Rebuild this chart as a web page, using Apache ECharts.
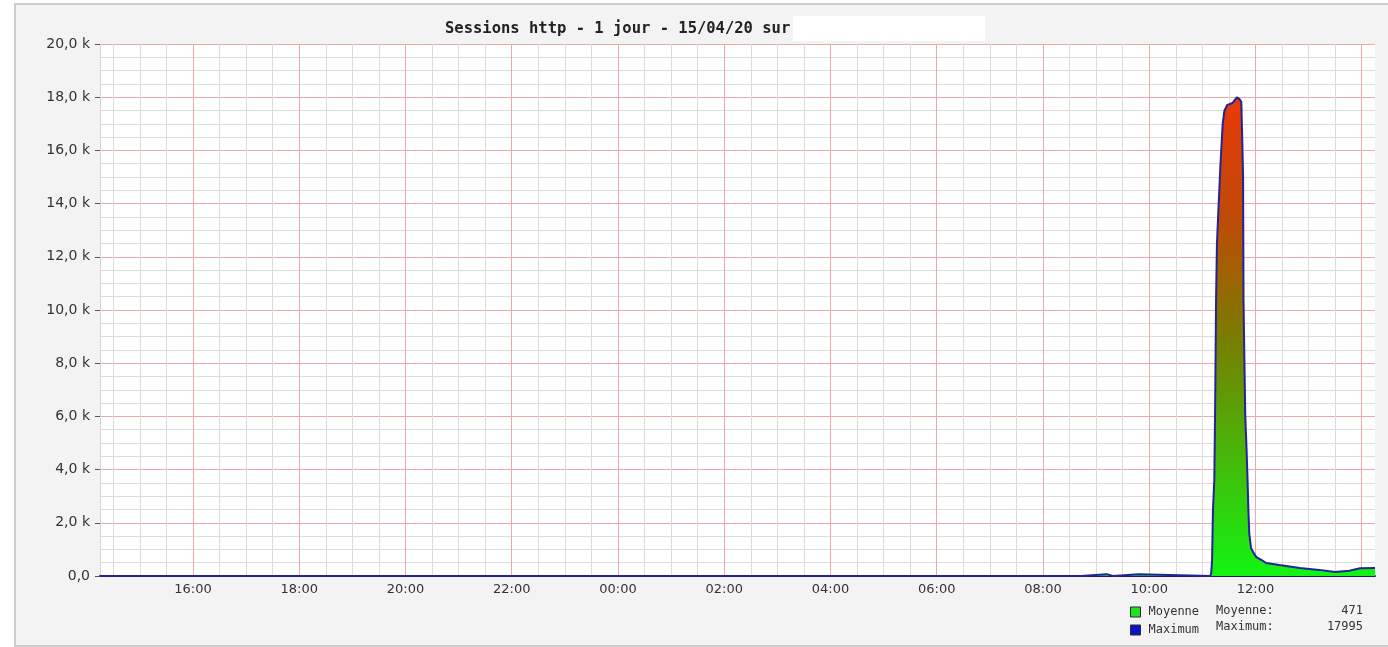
<!DOCTYPE html>
<html>
<head>
<meta charset="utf-8">
<script src="https://cdn.jsdelivr.net/npm/echarts@6/dist/echarts.min.js"></script>
<style>
  html, body { margin: 0; padding: 0; background: #fff; }
  .frame {
    position: absolute; left: 14px; top: 3px; width: 1390px; height: 640px;
    background: #f3f3f3; border: 2px solid #cdcdcd;
  }
  #chart { position: absolute; left: 0; top: 0; width: 1388px; height: 647px; }
</style>
</head>
<body>
<div class="frame"></div>
<div id="chart"></div>
<script>
// minutes from 00:00 on 14/04 (values above 1440 are on 15/04)
const times = [855, 1963, 1964, 1992, 1993, 1999, 2000, 2028, 2029, 2109, 2110, 2111, 2112, 2113.5, 2114.5,
  2115.5, 2116.5, 2118, 2120.5, 2123, 2125, 2128, 2134, 2139, 2142, 2144, 2145, 2146, 2146.5, 2147.5,
  2148.5, 2150, 2151, 2152, 2153, 2155, 2158, 2161, 2167, 2172, 2187, 2210, 2232, 2250, 2266, 2278, 2295]
const sessions = [0, 0, 70, 70, 0, 0, 70, 70, 0, 0, 110, 600, 2500, 3600, 6500,
  10400, 12500, 13650, 15500, 17000, 17500, 17700, 17780, 17995, 17930, 17820, 16500, 15000, 10400, 8100,
  6000, 4700, 3700, 2500, 1600, 1050, 860, 710, 600, 490, 410, 300, 230, 150, 200, 290, 300]
const legendNames = ['Moyenne', 'Maximum']
const statsLabels = ['Moyenne:', 'Maximum:']
const statsValues = ['471', '17995']

const MAJOR = '#eaaaaa'
const MINOR = '#dfdbdb'
const NONE = 'rgba(0,0,0,0)'

const chartDom = document.getElementById('chart')
const myChart = echarts.init(chartDom)

const points = times.map((t, i) => [t, sessions[i]])

// one label every two hours, none at the right edge
function hourLabel(v) {
  if (v % 120 !== 0 || v > 2250) return ''
  const h = Math.floor((v % 1440) / 60)
  return (h < 10 ? '0' + h : '' + h) + ':00'
}

function kLabel(v) {
  if (v === 0) return '0,0'
  return (v / 1000).toFixed(1).replace('.', ',') + ' k'
}

var option = {
  animation: false,
  title: {
    text: 'Sessions http - 1 jour - 15/04/20 sur',
    left: 445,
    top: 21,
    padding: 0,
    textStyle: { fontFamily: 'DejaVu Sans Mono', fontWeight: 'bold', fontSize: 15.5, color: '#222' }
  },
  legend: {
    data: [
      { name: legendNames[0], itemStyle: { color: '#22e022', borderColor: '#2a2a2a', borderWidth: 1 } },
      { name: legendNames[1], itemStyle: { color: '#1010cc', borderColor: '#2a2a2a', borderWidth: 1 } }
    ],
    orient: 'vertical',
    left: 1130,
    top: 606,
    padding: 0,
    icon: 'rect',
    itemWidth: 10,
    itemHeight: 10,
    itemGap: 6,
    selectedMode: false,
    textStyle: { fontFamily: 'DejaVu Sans Mono', fontSize: 12, color: '#333', padding: [0, 0, 0, 3] }
  },
  graphic: [
    { type: 'rect', shape: { x: 793, y: 16, width: 192, height: 25 }, style: { fill: '#fff' } },
    { type: 'text', x: 1216, y: 611, style: { text: statsLabels[0], font: '12px "DejaVu Sans Mono"', fill: '#333', verticalAlign: 'middle' } },
    { type: 'text', x: 1216, y: 627, style: { text: statsLabels[1], font: '12px "DejaVu Sans Mono"', fill: '#333', verticalAlign: 'middle' } },
    { type: 'text', x: 1363, y: 611, style: { text: statsValues[0], font: '12px "DejaVu Sans Mono"', fill: '#333', align: 'right', verticalAlign: 'middle' } },
    { type: 'text', x: 1363, y: 627, style: { text: statsValues[1], font: '12px "DejaVu Sans Mono"', fill: '#333', align: 'right', verticalAlign: 'middle' } }
  ],
  grid: {
    left: 100,
    right: 13,
    top: 44,
    bottom: 71,
    show: true,
    backgroundColor: '#fff',
    borderWidth: 0
  },
  xAxis: [
    {
      type: 'value',
      min: 855,
      max: 2295,
      interval: 15,
      axisLine: { show: true, lineStyle: { color: '#1c1c6e', width: 2 } },
      axisTick: { show: false },
      axisLabel: {
        formatter: hourLabel,
        margin: 7,
        color: '#333',
        fontFamily: 'DejaVu Sans',
        fontSize: 13
      },
      splitLine: {
        show: true,
        lineStyle: { width: 1, color: [NONE, MINOR, NONE, MINOR, NONE, MINOR, NONE, MAJOR] }
      }
    }
  ],
  yAxis: [
    {
      type: 'value',
      min: 0,
      max: 20000,
      interval: 500,
      axisLine: { show: true, lineStyle: { color: '#d4d4d4' } },
      axisTick: { show: false },
      axisLabel: { show: false },
      splitLine: {
        show: true,
        lineStyle: { width: 1, color: [MAJOR, MINOR, MINOR, MINOR] }
      }
    },
    {
      type: 'value',
      min: 0,
      max: 20000,
      interval: 2000,
      position: 'left',
      axisLine: { show: false },
      axisTick: { show: true, length: 5, lineStyle: { color: '#555' } },
      axisLabel: {
        formatter: kLabel,
        margin: 10,
        color: '#333',
        fontFamily: 'DejaVu Sans',
        fontSize: 14
      },
      splitLine: { show: false }
    }
  ],
  series: [
    {
      name: legendNames[0],
      type: 'line',
      data: points,
      symbol: 'none',
      clip: false,
      lineStyle: { width: 0 },
      itemStyle: { color: '#22e022' },
      areaStyle: {
        opacity: 1,
        color: new echarts.graphic.LinearGradient(0, 0, 0, 1, [
          { offset: 0, color: '#e83a08' },
          { offset: 0.25, color: '#c04a08' },
          { offset: 0.5, color: '#7a7c00' },
          { offset: 1, color: '#12f412' }
        ])
      },
      z: 2
    },
    {
      name: legendNames[1],
      type: 'line',
      data: points,
      symbol: 'none',
      clip: false,
      itemStyle: { color: '#1010cc' },
      lineStyle: { color: '#22229a', width: 2 },
      z: 3
    }
  ]
}
option && myChart.setOption(option)
</script>
</body>
</html>
